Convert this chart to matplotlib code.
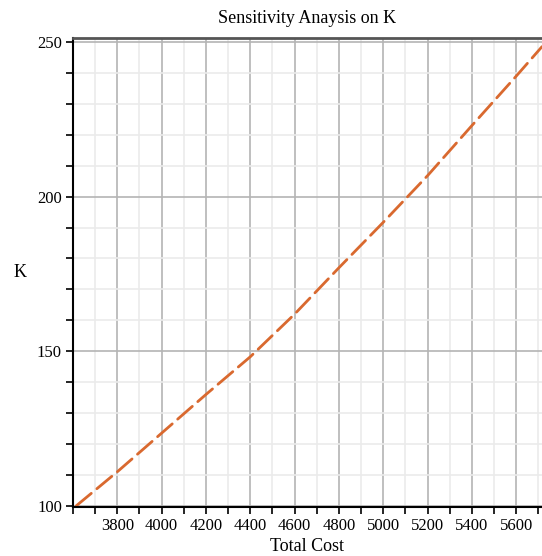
import numpy as np
import matplotlib
matplotlib.use("Agg")
import matplotlib.pyplot as plt
from matplotlib.ticker import MultipleLocator, FixedLocator

# Values
total_cost = [3615, 3800, 4000, 4200, 4400, 4600, 4800, 5000, 5200, 5400, 5600, 5716]
k_values = [100, 111, 123.5, 136, 148.2, 162, 177, 191.7, 206.8, 223, 239, 248.5]
x_tick_labels = [3800, 4000, 4200, 4400, 4600, 4800, 5000, 5200, 5400, 5600]
y_tick_labels = [100, 150, 200, 250]

plt.rcParams['font.family'] = ['Liberation Serif', 'DejaVu Serif']

fig = plt.figure(figsize=(5.42, 5.56), dpi=100)
W, H = 542, 556
left, right, top, bottom = 73, 542, 38, 507
ax = fig.add_axes([left / W, 1 - bottom / H, (right - left) / W, (bottom - top) / H])

ax.plot(total_cost, k_values, color='#d9692f', linewidth=2.0,
        dashes=(7, 2.6), dash_capstyle='round')

ax.set_xlim(3600, 5716)
ax.set_ylim(99.6, 251.3)

ax.xaxis.set_major_locator(FixedLocator(x_tick_labels))
ax.xaxis.set_minor_locator(MultipleLocator(100))
ax.yaxis.set_major_locator(FixedLocator(y_tick_labels))
ax.yaxis.set_minor_locator(MultipleLocator(10))

ax.grid(which='major', color='#b4b4b4', linewidth=1.2)
ax.grid(which='minor', color='#ebebeb', linewidth=1.2)
ax.set_axisbelow(True)

ax.tick_params(which='both', direction='out', length=5, width=1.2, color='black',
               labelsize=12, pad=3)

ax.spines['right'].set_visible(False)
ax.spines['top'].set_color('#555555')
ax.spines['top'].set_linewidth(2)
ax.spines['left'].set_linewidth(1.5)
ax.spines['bottom'].set_linewidth(1.5)

ax.set_title('Sensitivity Anaysis on K', fontsize=13, pad=11)
ax.set_xlabel('Total Cost', fontsize=13, labelpad=3)
ax.set_ylabel('K', fontsize=13, rotation=0, labelpad=12, va='center')

fig.savefig('out.png', dpi=100)
